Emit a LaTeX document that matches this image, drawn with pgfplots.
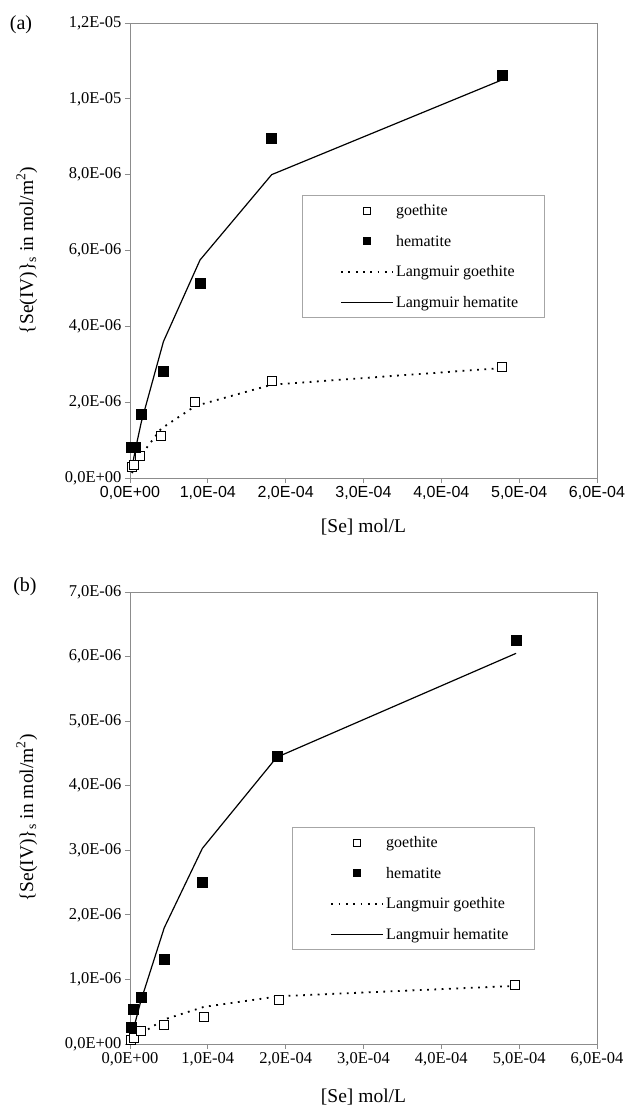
\documentclass[border=0pt]{standalone}
\usepackage{fontspec}
\setmainfont{Liberation Serif}
\newfontfamily\arialfont{Liberation Sans}
\usepackage{pgfplots}
\usepackage{pgfplotstable}
\pgfplotsset{compat=1.18}

% panel (a)
\pgfplotstableread{
x y
2.6e-6 0.28e-6
5.2e-6 0.35e-6
1.3e-5 0.585e-6
4.0e-5 1.11e-6
8.4e-5 2.01e-6
1.82e-4 2.56e-6
4.78e-4 2.93e-6
}\goeA
\pgfplotstableread{
x y
1.6e-6 0.80e-6
6.8e-6 0.82e-6
1.46e-5 1.68e-6
4.3e-5 2.82e-6
9.0e-5 5.13e-6
1.82e-4 8.97e-6
4.78e-4 10.63e-6
}\hemA
\pgfplotstableread{
x y
2.6e-6 0.13e-6
5.2e-6 0.26e-6
1.3e-5 0.57e-6
4.0e-5 1.30e-6
8.4e-5 1.90e-6
1.82e-4 2.46e-6
4.78e-4 2.90e-6
}\lgoeA
\pgfplotstableread{
x y
1.6e-6 0.18e-6
6.8e-6 0.74e-6
1.46e-5 1.48e-6
4.3e-5 3.60e-6
9.0e-5 5.75e-6
1.82e-4 8.00e-6
4.78e-4 10.50e-6
}\lhemA

% panel (b)
\pgfplotstableread{
x y
1.0e-6 0.06e-6
5.2e-6 0.095e-6
1.4e-5 0.20e-6
4.4e-5 0.30e-6
9.5e-5 0.42e-6
1.92e-4 0.68e-6
4.95e-4 0.92e-6
}\goeB
\pgfplotstableread{
x y
1.0e-6 0.26e-6
4.2e-6 0.54e-6
1.4e-5 0.72e-6
4.4e-5 1.32e-6
9.3e-5 2.50e-6
1.885e-4 4.45e-6
4.96e-4 6.26e-6
}\hemB
\pgfplotstableread{
x y
1.0e-6 0.02e-6
5.2e-6 0.07e-6
1.4e-5 0.16e-6
4.4e-5 0.38e-6
9.5e-5 0.575e-6
1.92e-4 0.74e-6
4.95e-4 0.90e-6
}\lgoeB
\pgfplotstableread{
x y
1.0e-6 0.06e-6
4.2e-6 0.22e-6
1.4e-5 0.67e-6
4.4e-5 1.80e-6
9.3e-5 3.03e-6
1.885e-4 4.44e-6
4.96e-4 6.05e-6
}\lhemB

\pgfplotsset{
  seaxis/.style={
    scale only axis, width=467pt, xmin=0, xmax=6e-4, clip=false,
    axis line style={draw=black!45, line width=0.8pt},
    tick align=outside, tick pos=left, major tick length=5pt,
    tick style={draw=black!45, line width=0.8pt},
    scaled ticks=false,
    xtick={0,1e-4,2e-4,3e-4,4e-4,5e-4,6e-4},
    xticklabels={{0,0E+00},{1,0E-04},{2,0E-04},{3,0E-04},{4,0E-04},{5,0E-04},{6,0E-04}},
    ticklabel style={font=\fontsize{16.5}{18}\selectfont},
    xlabel={[Se] mol/L},
    ylabel={\{Se(IV)\}\textsubscript{s} in mol/m\textsuperscript{2})},
    every axis x label/.style={font=\fontsize{19.5}{22}\selectfont},
    every axis y label/.style={at={(axis description cs:-0.221,0.5)},rotate=90,anchor=center,
      font=\fontsize{19.5}{22}\selectfont},
    legend cell align=left,
    legend style={draw=black!35, line width=0.8pt, font=\fontsize{16}{18}\selectfont,
      anchor=north west, inner xsep=4pt, inner ysep=7pt, row sep=14pt},
  },
  legmark/.style={legend image code/.code={\path (0pt,0pt) (86pt,0pt); \draw[##1] plot coordinates {(60pt,0pt)};}},
  legline/.style={legend image code/.code={\path (0pt,0pt); \draw[##1] (34pt,0pt) -- (86pt,0pt);}},
  goemark/.style={only marks, mark=square*, mark options={draw=black, fill=white, line width=1.1pt}},
  hemmark/.style={only marks, mark=square*, mark options={draw=black, fill=black}},
  goeline/.style={black, line width=1.8pt, dash pattern=on 1.8pt off 5.5pt, mark=none},
  hemline/.style={black, line width=1.2pt, mark=none},
}

\begin{document}
\begin{tikzpicture}
\path[use as bounding box] (0,0) rectangle (633pt,1110pt);
\node[font=\fontsize{20}{22}\selectfont] at (21pt,1085pt) {(a)};
\node[font=\fontsize{20}{22}\selectfont] at (25pt,523pt) {(b)};

\begin{axis}[seaxis, at={(130pt,632pt)}, anchor=south west, height=455pt,
  ymin=0, ymax=1.2e-5,
  ytick={0,2e-6,4e-6,6e-6,8e-6,1e-5,1.2e-5},
  yticklabels={{0,0E+00},{2,0E-06},{4,0E-06},{6,0E-06},{8,0E-06},{1,0E-05},{1,2E-05}},
  xticklabel style={font=\arialfont\fontsize{16}{18}\selectfont},
  xlabel style={at={(axis description cs:0.5,-0.108)},anchor=center},
  legend style={at={(axis description cs:0.368,0.622)}}]
\addlegendimage{goemark, legmark, mark size=3.5pt}
\addlegendentry{goethite}
\addlegendimage{hemmark, legmark, mark size=3.5pt}
\addlegendentry{hematite}
\addlegendimage{goeline, legline}
\addlegendentry{Langmuir goethite}
\addlegendimage{hemline, legline}
\addlegendentry{Langmuir hematite\hspace*{20pt}}
\addplot[goeline, forget plot] table {\lgoeA};
\addplot[hemline, forget plot] table {\lhemA};
\addplot[goemark, mark size=4.5pt, forget plot] table {\goeA};
\addplot[hemmark, mark size=5pt, forget plot] table {\hemA};
\end{axis}

\begin{axis}[seaxis, at={(130pt,66pt)}, anchor=south west, height=452pt,
  ymin=0, ymax=7e-6,
  ytick={0,1e-6,2e-6,3e-6,4e-6,5e-6,6e-6,7e-6},
  yticklabels={{0,0E+00},{1,0E-06},{2,0E-06},{3,0E-06},{4,0E-06},{5,0E-06},{6,0E-06},{7,0E-06}},
  xlabel style={at={(axis description cs:0.5,-0.117)},anchor=center},
  legend style={at={(axis description cs:0.347,0.48)}}]
\addlegendimage{goemark, legmark, mark size=3.5pt}
\addlegendentry{goethite}
\addlegendimage{hemmark, legmark, mark size=3.5pt}
\addlegendentry{hematite}
\addlegendimage{goeline, legline}
\addlegendentry{Langmuir goethite}
\addlegendimage{hemline, legline}
\addlegendentry{Langmuir hematite\hspace*{20pt}}
\addplot[goeline, forget plot] table {\lgoeB};
\addplot[hemline, forget plot] table {\lhemB};
\addplot[goemark, mark size=4.5pt, forget plot] table {\goeB};
\addplot[hemmark, mark size=5pt, forget plot] table {\hemB};
\end{axis}
\end{tikzpicture}
\end{document}
